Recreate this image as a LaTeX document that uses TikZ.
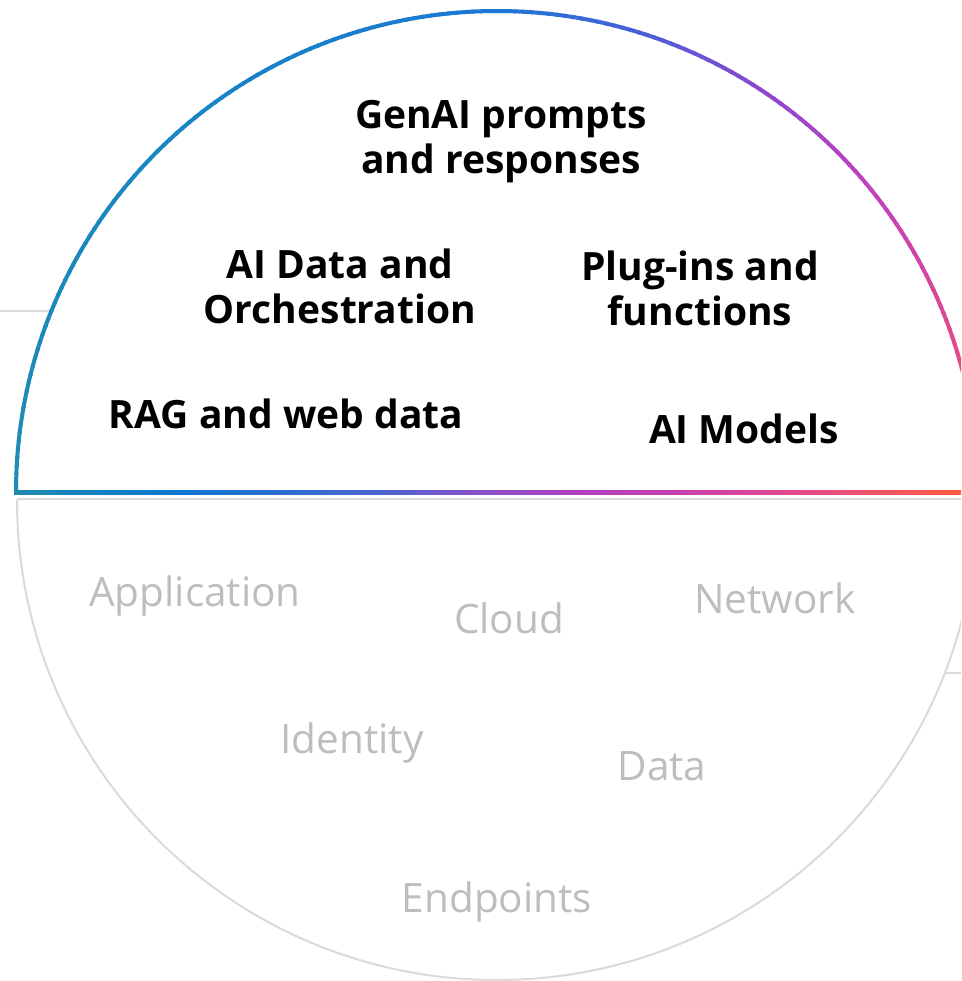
\documentclass[tikz,border=0pt]{standalone}
\usepackage{fontspec}
\setmainfont{Open Sans}
\definecolor{a0}{HTML}{1F8DB3}
\definecolor{a1}{HTML}{1986C2}
\definecolor{a2}{HTML}{1A78D4}
\definecolor{a3}{HTML}{4A60D8}
\definecolor{a4}{HTML}{8A48D0}
\definecolor{a5}{HTML}{C040C0}
\definecolor{a6}{HTML}{E84D7A}
\definecolor{l0}{HTML}{1E8AB0}
\definecolor{l1}{HTML}{0A78D0}
\definecolor{l2}{HTML}{4A64D0}
\definecolor{l3}{HTML}{8A50C8}
\definecolor{l4}{HTML}{B040C0}
\definecolor{l5}{HTML}{C840B0}
\definecolor{l6}{HTML}{E04890}
\definecolor{l7}{HTML}{F05468}
\definecolor{l8}{HTML}{FF5A3C}
\definecolor{greyline}{HTML}{DADAD8}
\definecolor{greytext}{HTML}{BDBDBD}
\pgfdeclarehorizontalshading{gradline}{100bp}{color(0bp)=(l0); color(25bp)=(l0); color(33.68bp)=(l1); color(44.26bp)=(l2); color(49.55bp)=(l3); color(54.84bp)=(l4); color(60.13bp)=(l5); color(65.42bp)=(l6); color(70.71bp)=(l7); color(75bp)=(l8); color(100bp)=(l8)}
\tikzset{
  layerlabel/.style={font=\fontsize{39}{45}\selectfont\bfseries, text=black, align=center, inner sep=0pt},
  domainlabel/.style={font=\fontsize{40.5}{45}\selectfont, text=greytext, align=center, inner sep=0pt},
  thingrey/.style={draw=greyline, line width=2pt},
}
\begin{document}
\begin{tikzpicture}[x=1pt,y=1pt]
\useasboundingbox (0,0) rectangle (961,-981);
\clip (0,0) rectangle (961,-981);
\coordinate (ctop) at (497,-492);
\coordinate (cbot) at (497,-500);
% grey side lines
\coordinate (lout) at (0,-311);
\coordinate (lin) at (52,-311);
\coordinate (rin) at (944,-673);
\coordinate (rout) at (961,-673);
\draw[thingrey] (lout) -- (lin);
\draw[thingrey] (rin) -- (rout);
% lower grey half circle
\draw[thingrey] (cbot) ++(180:480) arc[start angle=180, end angle=360, radius=480];
\draw[thingrey] (17,-499) -- (961,-499);
% gradient arc
\foreach \aa/\ab/\ca/\cb in {180/135/a0/a1, 135/90/a1/a2, 90/73/a2/a3, 73/57/a3/a4, 57/41/a4/a5, 41/10/a5/a6}{
  \pgfmathtruncatemacro\n{\aa-\ab}
  \foreach \i in {1,...,\n}{
    \pgfmathsetmacro\p{100*(\i-0.5)/\n}
    \pgfmathsetmacro\s{\aa-\i+1}
    \pgfmathsetmacro\e{\s-1.3}
    \draw[line width=4pt, color=\cb!\p!\ca] ([shift={(\s:481)}]ctop) arc[start angle=\s, end angle=\e, radius=481];
  }
}
% gradient base line
\shade[shading=gradline] (14,-490) rectangle (961,-494);
% layer labels
\node[layerlabel] (genai) at (501,-142) {GenAI prompts\\and responses};
\node[layerlabel] (aidata) at (340,-286) {AI Data and\\Orchestration};
\node[layerlabel] (plugins) at (700,-288) {Plug-ins and\\functions};
\node[layerlabel] (rag) at (286,-414) {RAG and web data};
\node[layerlabel] (models) at (744,-429) {AI Models};
% domain labels
\node[domainlabel] (app) at (195,-596) {Application};
\node[domainlabel] (cloud) at (509,-618) {Cloud};
\node[domainlabel] (net) at (775,-598) {Network};
\node[domainlabel] (ident) at (352,-743) {Identity};
\node[domainlabel] (data) at (662,-766) {Data};
\node[domainlabel] (endp) at (497,-902) {Endpoints};
\end{tikzpicture}
\end{document}
